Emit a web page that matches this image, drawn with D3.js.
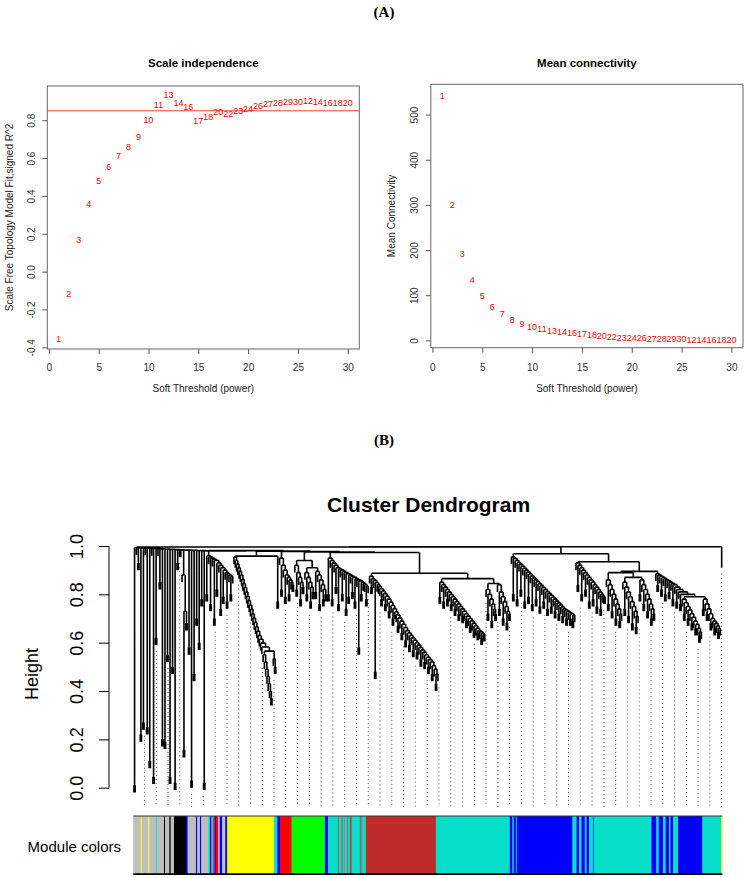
<!DOCTYPE html>
<html><head><meta charset="utf-8">
<script src="https://cdnjs.cloudflare.com/ajax/libs/d3/7.8.5/d3.min.js"></script>
<style>body{margin:0;background:#fff}svg{display:block;font-family:"Liberation Sans",Arial,Helvetica,sans-serif}</style>
</head><body><svg id="c" width="746" height="878"></svg>
<script>
// ---------------- DATA ----------------
const powers = [1,2,3,4,5,6,7,8,9,10,11,12,13,14,15,16,17,18,19,20,21,22,23,24,25,26,27,28,29,30];
const pointLabels = ["1","2","3","4","5","6","7","8","9","10","11","13","14","16","17","18","20","22","23","24","26","27","28","29","30","12","14","16","18","20"];
const fitR2 = [-0.356,-0.116,0.167,0.356,0.479,0.555,0.611,0.657,0.710,0.804,0.881,0.932,0.890,0.869,0.797,0.819,0.842,0.832,0.848,0.862,0.874,0.885,0.892,0.895,0.897,0.900,0.897,0.890,0.890,0.890];
const meanK = [541,299,191,133,97.5,74,58,46.5,37.7,31,26,22,18.5,16,14,12,10,8,6.6,6,5,4.4,3.7,3.3,3,2.2,2.2,1.5,1.5,1.5];
const r2Cut = 0.85;
const xTicksTop = [0,5,10,15,20,25,30];
const yTicksR2 = [-0.4,-0.2,0.0,0.2,0.4,0.6,0.8];
const yTicksK = [0,100,200,300,400,500];
const heightTicks = [0.0,0.2,0.4,0.6,0.8,1.0];

// dendrogram: ladder steps [mergeHeight, child]; child null = single gene, number = gene pair merged at that height
const greySteps = [[0.997,0.01],[0.9965,null],[0.996,0.93],[0.9955,0.22],[0.995,0.27],[0.9945,null],[0.994,0.25],[0.9935,0.11],[0.993,null],[0.9925,0.045],[0.992,0.62],[0.9915,null],[0.991,0.85],[0.9905,0.2],[0.99,0.19],[0.9895,0.55],[0.989,0.045],[0.9885,0.5],[0.988,0.02],[0.9875,0.93],[0.987,null],[0.9865,null],[0.986,[0.88,null,[0.73,0.155,0.68]]],[0.9855,0.58],[0.985,0.03],[0.9845,0.47],[0.984,0.7],[0.9835,0.6],[0.983,0.78],[0.9825,0.02]];
const greyCombSteps = [[0.96,0.80],[0.955,null],[0.95,0.76],[0.945,null],[0.94,0.70],[0.93,0.82],[0.92,null],[0.91,0.74],[0.9,0.79],[0.89,null],[0.885,0.77],[0.88,null],[0.875,0.8]];
const yellowSpine = [0.955,0.94,0.925,0.91,0.895,0.88,0.862,0.845,0.828,0.81,0.792,0.774,0.756,0.738,0.72,0.702,0.684,0.666,0.648,0.63,0.614,0.598,0.582];
const yellowLower = [0.55,0.52,0.49,0.46,0.43,0.40,0.37];
const yellowSide = [0.535,null,0.5];
const redSteps = [[0.95,null],[0.92,0.82],[0.9,null],[0.88,0.79],[0.87,null],[0.86,0.8],[0.85,null],[0.84,null]];
const greenA = [[0.92,null],[0.89,0.82],[0.87,null],[0.85,0.78],[0.83,null]];
const greenB = [[0.89,null],[0.87,0.8],[0.85,null],[0.83,0.77],[0.81,null]];
const greenC = [[0.895,0.81],[0.88,null],[0.86,0.76],[0.84,null],[0.82,0.78],[0.8,null]];
const mixSteps = [[0.95,0.8],[0.94,null],[0.93,0.78],[0.92,null],[0.91,0.83],[0.905,0.76],[0.9,null],[0.895,0.8],[0.89,null],[0.885,0.74],[0.88,0.79],[0.875,null],[0.87,0.81],[0.865,0.77],[0.86,null],[0.855,0.58],[0.85,0.8],[0.845,null],[0.84,null],[0.835,0.78]];
const brownSteps = [[0.875,null],[0.865,0.83],[0.857,null],[0.849,0.48],[0.841,null],[0.832,null],[0.823,null],[0.814,0.78],[0.803,null],[0.792,0.76],[0.78,null],[0.767,0.73],[0.754,null],[0.741,0.7],[0.728,null],[0.715,null],[0.702,0.67],[0.689,null],[0.676,0.64],[0.663,null],[0.65,0.61],[0.64,null],[0.63,0.59],[0.62,null],[0.61,0.57],[0.6,null],[0.59,0.56],[0.58,null],[0.57,0.53],[0.56,null],[0.55,0.52],[0.54,null],[0.53,0.5],[0.52,null],[0.505,0.47],[0.49,null],[0.47,0.43]];
const turqA = [[0.85,0.79],[0.84,null],[0.83,0.77],[0.82,null],[0.81,0.78],[0.8,null],[0.79,0.76],[0.78,null],[0.77,0.74],[0.76,null],[0.75,0.72],[0.74,null],[0.73,0.71],[0.72,null],[0.71,0.69],[0.7,null],[0.69,0.67],[0.68,null],[0.67,0.65],[0.66,null],[0.65,0.64],[0.645,null],[0.64,0.62],[0.635,null]];
const turqB = [[0.82,null],[0.8,0.72],[0.78,null],[0.76,0.69],[0.74,null],[0.72,null]];
const turqC = [[0.84,null],[0.81,0.74],[0.79,null],[0.77,0.7],[0.75,null],[0.73,0.68],[0.72,null]];
const blueSteps = [[0.955,null],[0.948,0.8],[0.94,null],[0.932,0.78],[0.924,null],[0.916,0.82],[0.908,null],[0.9,0.77],[0.892,null],[0.884,0.79],[0.876,null],[0.868,0.76],[0.86,null],[0.852,0.78],[0.844,null],[0.836,0.75],[0.828,null],[0.82,0.77],[0.812,null],[0.804,0.74],[0.796,null],[0.788,0.75],[0.78,null],[0.772,0.73],[0.764,null],[0.756,0.72],[0.748,null],[0.74,0.71],[0.735,null],[0.73,0.7],[0.725,null],[0.72,0.7],[0.715,0.69]];
const mixBlueSteps = [[0.93,null],[0.92,0.84],[0.91,null],[0.9,0.8],[0.89,null],[0.88,0.82],[0.87,null],[0.86,0.77],[0.85,null],[0.84,0.78],[0.83,null],[0.82,0.75],[0.81,null],[0.8,0.74],[0.795,null],[0.79,null]];
const turq2A = [[0.86,null],[0.84,0.76],[0.82,null],[0.8,0.73],[0.78,null],[0.76,0.7],[0.74,null],[0.72,0.69]];
const turq2B = [[0.85,null],[0.83,0.74],[0.81,null],[0.79,0.71],[0.77,null],[0.75,0.68],[0.73,null],[0.71,0.665]];
const turq2C = [[0.86,0.8],[0.84,null],[0.82,0.76],[0.8,null],[0.78,0.73],[0.76,null],[0.74,0.7],[0.72,null]];
const blue2Top = [[0.885,null],[0.88,0.84],[0.875,null],[0.87,0.82],[0.865,null],[0.86,0.8],[0.855,null],[0.85,0.81],[0.845,null],[0.84,0.78],[0.83,null],[0.82,0.77],[0.81,null],[0.8,0.76]];
const blue2Low = [[0.78,null],[0.765,0.72],[0.75,null],[0.735,0.7],[0.72,null],[0.705,0.68],[0.69,null],[0.675,0.66],[0.66,null],[0.645,0.63]];
const turq3 = [[0.78,0.74],[0.76,null],[0.74,0.72],[0.72,null],[0.7,0.68],[0.69,null],[0.68,0.66],[0.67,null],[0.66,0.645]];
// merge heights joining the blocks
const joins = {root:0.997, main:0.996, lastPair:0.94, yellowPair:0.958, yellowPairH:0.77, yellowSideJoin:0.565, greenTop:0.94, greenSub:0.91,
  brownTurq:0.887, turqTop:0.865, turqSub:0.845, right:0.968, rightSub:0.935, rightSub2:0.895, turq2:0.89, turq2Sub:0.87, blue2Join:0.79,
  topGrey:0.981, topYellow:0.979, topRed:0.977, topGreen:0.975, topMix:0.973};
const greyTopShift = -0.003; // grey genes join just below the main merge

// module colour runs along the leaf order [colour, genes]
const moduleRuns = [["grey",7.4],["yellow",1],["grey",6.6],["yellow",1],["grey",6.7],["turquoise",1],["grey",7],["black",1],["grey",4.3],["black",1.4],["grey",3.3],["black",12],["blue",1.7],["grey",8.3],["blue",1.3],["grey",2.7],["blue",1.3],["grey",7],["turquoise",1.7],["blue",1.5],["turquoise",1.8],["red",1.7],["blue",1],["red",2.3],["grey",1.5],["blue",2.5],["grey",3],["blue",2],
 ["yellow",46.7],["turquoise",3.3],["blue",2.7],["red",11.7],["green",33.3],["blue",3.3],["turquoise",10],["brown",1],["turquoise",2.4],["brown",1],["turquoise",2],["brown",0.7],["turquoise",2],["brown",0.7],["turquoise",2],["brown",1.6],["turquoise",8.3],["brown",0.8],["turquoise",1],["brown",0.8],["turquoise",3.4],
 ["brown",70],["turquoise",74],["blue",2.7],["turquoise",1.3],["blue",2],["turquoise",1],["blue",55.7],["turquoise",4],["blue",2.6],["turquoise",2.4],["blue",3.3],["turquoise",1.7],["blue",2.6],["turquoise",4],["blue",0.7],["turquoise",57.7],
 ["blue",5],["turquoise",2.3],["blue",4.3],["turquoise",2.7],["blue",3.3],["turquoise",1.4],["blue",2.6],["turquoise",5],["blue",24.4],["turquoise",19],["yellow",0.9]];
const colourMap = {grey:"#BEBEBE",yellow:"#FFFF00",turquoise:"#08DFCB",black:"#000000",blue:"#0000FF",red:"#FF0000",green:"#00FF00",brown:"#BF2A2A"};

// ---------------- DRAW ----------------
const svg = d3.select("#c");
const FONT = '"Liberation Sans",Arial,Helvetica,sans-serif';
const SERIF = '"Liberation Serif","Times New Roman",serif';

svg.append("text").attr("x",384).attr("y",17).attr("text-anchor","middle").style("font-family",SERIF).style("font-weight","bold").style("font-size","15px").text("(A)");
svg.append("text").attr("x",384).attr("y",445).attr("text-anchor","middle").style("font-family",SERIF).style("font-weight","bold").style("font-size","15px").text("(B)");

function panel(cfg){
  const g = svg.append("g");
  const x = d3.scaleLinear().domain([-0.16,31.16]).range([cfg.box[0],cfg.box[2]]);
  const y = d3.scaleLinear().domain(cfg.ydom).range([cfg.box[3],cfg.box[1]]);
  const gx = g.append("g").attr("transform",`translate(0,${cfg.box[3]})`)
    .call(d3.axisBottom(x).tickValues(xTicksTop).tickSize(5).tickSizeOuter(0).tickFormat(d=>String(d)));
  gx.select(".domain").remove();
  gx.selectAll("line").attr("stroke","#555");
  gx.selectAll("text").attr("y",null).attr("dy",null).attr("transform",`translate(0,${370.5-cfg.box[3]})`)
    .style("font-size","10px").style("font-family",FONT).attr("fill","#333");
  const gy = g.append("g").attr("transform",`translate(${cfg.box[0]},0)`)
    .call(d3.axisLeft(y).tickValues(cfg.yticks).tickSize(5).tickSizeOuter(0).tickFormat(cfg.yfmt));
  gy.select(".domain").remove();
  gy.selectAll("line").attr("stroke","#555");
  gy.selectAll("text").attr("x",null).attr("dy",null).attr("text-anchor","middle")
    .attr("transform",`translate(${cfg.ylabX-cfg.box[0]},0) rotate(-90)`)
    .style("font-size","10px").style("font-family",FONT).attr("fill","#333");
  g.append("rect").attr("x",cfg.box[0]).attr("y",cfg.box[1]).attr("width",cfg.box[2]-cfg.box[0]).attr("height",cfg.box[3]-cfg.box[1])
    .attr("fill","none").attr("stroke","#666").attr("stroke-width",1);
  if(cfg.hline!==undefined){
    g.append("line").attr("x1",cfg.box[0]).attr("x2",cfg.box[2]).attr("y1",y(cfg.hline)).attr("y2",y(cfg.hline)).attr("stroke","#ff3b3b").attr("stroke-width",1);
  }
  g.selectAll("text.pt").data(cfg.vals).join("text").attr("class","pt")
    .attr("x",(d,i)=>x(powers[i])).attr("y",d=>y(d)).attr("dy","0.35em").attr("text-anchor","middle")
    .style("font-size","9px").attr("fill","#ff0000").text((d,i)=>pointLabels[i]);
  const cx = (cfg.box[0]+cfg.box[2])/2;
  g.append("text").attr("x",cx).attr("y",66.5).attr("text-anchor","middle").style("font-weight","bold").style("font-size","11.5px").text(cfg.title);
  g.append("text").attr("x",cx).attr("y",392).attr("text-anchor","middle").style("font-size","10px").attr("fill","#222").text("Soft Threshold (power)");
  g.append("text").attr("transform",`translate(${cfg.ytitleX},${(cfg.box[1]+cfg.box[3])/2}) rotate(-90)`).attr("text-anchor","middle").style("font-size","10px").attr("fill","#222").text(cfg.ytitle);
}
panel({box:[47.3,86,359.3,349], ydom:[-0.409,0.981], yticks:yTicksR2, yfmt:d=>d.toFixed(1), ylabX:35, vals:fitR2, hline:r2Cut,
  title:"Scale independence", ytitle:"Scale Free Topology Model Fit,signed R^2", ytitleX:12.5});
panel({box:[430.8,84.3,743,347.7], ydom:[-16.2,567], yticks:yTicksK, yfmt:d=>String(d), ylabX:418.3, vals:meanK,
  title:"Mean connectivity", ytitle:"Mean Connectivity", ytitleX:394.5});

// ---- dendrogram tree construction ----
function toNode(c){
  if(c===null) return {leaf:true};
  if(typeof c==="number") return {h:c, children:[{leaf:true},{leaf:true}]};
  if(Array.isArray(c)) return {h:c[0], children:c.slice(1).map(toNode)};
  return c;
}
function ladder(steps, tail){
  let node = tail ? tail : null;
  for(let i=steps.length-1;i>=0;i--){
    const [h,child] = steps[i];
    node = {h, children:[toNode(child), node ? node : {leaf:true}]};
  }
  return node;
}
const nodeOf = (h,...kids)=>({h, children:kids.map(toNode)});
const blockB = ladder(greyCombSteps);
const blockC = ladder(yellowSpine.map(h=>[h,null]), nodeOf(joins.yellowSideJoin, ladder(yellowLower.map(h=>[h,null])), yellowSide));
const blockCD = nodeOf(joins.yellowPair, blockC, joins.yellowPairH);
const blockRed = ladder(redSteps);
const blockE = nodeOf(joins.greenTop, ladder(greenA), nodeOf(joins.greenSub, ladder(greenB), ladder(greenC)));
const blockF = ladder(mixSteps);
const blockGH = nodeOf(joins.brownTurq, ladder(brownSteps), nodeOf(joins.turqTop, ladder(turqA), nodeOf(joins.turqSub, ladder(turqB), ladder(turqC))));
const greyShifted = greySteps.map(([h,c])=>[h+greyTopShift,c]);
const leftAll = ladder(greyShifted.concat([[joins.topGrey,blockB],[joins.topYellow,blockCD],[joins.topRed,blockRed],[joins.topGreen,blockE],[joins.topMix,blockF]]), blockGH);
const blockJ2 = nodeOf(joins.turq2, ladder(turq2A), nodeOf(joins.turq2Sub, ladder(turq2B), ladder(turq2C)));
const blockK = ladder(blue2Top, nodeOf(joins.blue2Join, ladder(blue2Low), ladder(turq3)));
const right = nodeOf(joins.right, ladder(blueSteps), nodeOf(joins.rightSub, ladder(mixBlueSteps), nodeOf(joins.rightSub2, blockJ2, blockK)));
const treeData = nodeOf(joins.root, nodeOf(joins.main, leftAll, right), {h:joins.lastPair, children:[{leaf:true}]});

const DX0 = 133.3, DW = 589;
const root = d3.hierarchy(treeData, d=>d.children);
d3.cluster().separation(()=>1).size([DW,1])(root);
const yD = d3.scaleLinear().domain([0,1]).range([787.7,546]);
const HANG = 0.03;
let p = "";
root.each(n=>{
  if(!n.children) return;
  const h = n.data.h, yy = yD(h);
  const xs = n.children.map(c=>DX0+c.x);
  if(xs.length>1) p += `M${d3.min(xs)},${yy}H${d3.max(xs)}`;
  n.children.forEach(c=>{
    const bot = c.children ? c.data.h : h-HANG;
    p += `M${DX0+c.x},${yy}V${yD(bot)}`;
  });
});
const dg = svg.append("g");
// guide lines
const leaves = root.leaves(), N = leaves.length, pitch = DW/N;
const yMinPix = 807;
const guidePos = d3.range(1,51).map(k=>k*N/50);
dg.selectAll("line.guide").data(guidePos).join("line").attr("class","guide")
  .attr("x1",d=>DX0+(d-0.5)*pitch).attr("x2",d=>DX0+(d-0.5)*pitch)
  .attr("y1",d=>{const f=Math.max(1,Math.floor(d)), c=Math.min(N,Math.ceil(d));
     const hh=Math.min(leaves[f-1].parent.data.h, leaves[c-1].parent.data.h)-0.055; return Math.min(yMinPix,yD(hh));})
  .attr("y2",yMinPix).attr("stroke","#4d4d4d").attr("stroke-width",1).attr("stroke-dasharray","1,3");
dg.append("path").attr("d",p).attr("fill","none").attr("stroke","#000").attr("stroke-width",1.6);

// dendrogram y axis
const ga = svg.append("g").attr("transform","translate(109,0)")
  .call(d3.axisLeft(yD).tickValues(heightTicks).tickSize(10).tickSizeOuter(0).tickFormat(d=>d.toFixed(1)));
ga.select(".domain").attr("d",`M0,${yD(0)}V${yD(1)}`).attr("stroke","#000");
ga.selectAll("line").attr("stroke","#000");
ga.selectAll("text").attr("x",null).attr("dy",null).attr("text-anchor","middle")
  .attr("transform","translate(-25.7,0) rotate(-90)").style("font-size","18px").style("font-family",FONT).attr("fill","#000");
svg.append("text").attr("transform","translate(38,674) rotate(-90)").attr("text-anchor","middle").style("font-size","18px").text("Height");
svg.append("text").attr("x",428.6).attr("y",512).attr("text-anchor","middle").style("font-weight","bold").style("font-size","21px").text("Cluster Dendrogram");

// module colour bar
const totalGenes = d3.sum(moduleRuns,d=>d[1]);
const xc = d3.scaleLinear().domain([0,totalGenes]).range([DX0, DX0+DW]);
let acc = 0;
const runs = moduleRuns.map(([c,w])=>{const r={c,s:acc,w}; acc+=w; return r;});
const bar = svg.append("g");
bar.selectAll("rect").data(runs).join("rect")
  .attr("x",d=>xc(d.s)).attr("width",d=>Math.max(0.6,xc(d.s+d.w)-xc(d.s)+0.25))
  .attr("y",816).attr("height",58).attr("fill",d=>colourMap[d.c]);
bar.append("line").attr("x1",DX0).attr("x2",DX0+DW).attr("y1",816).attr("y2",816).attr("stroke","#333").attr("stroke-width",1.2);
bar.append("line").attr("x1",DX0).attr("x2",DX0+DW).attr("y1",874.2).attr("y2",874.2).attr("stroke","#000").attr("stroke-width",1.8);
svg.append("text").attr("x",121).attr("y",851.5).attr("text-anchor","end").style("font-size","15px").text("Module colors");
</script></body></html>
